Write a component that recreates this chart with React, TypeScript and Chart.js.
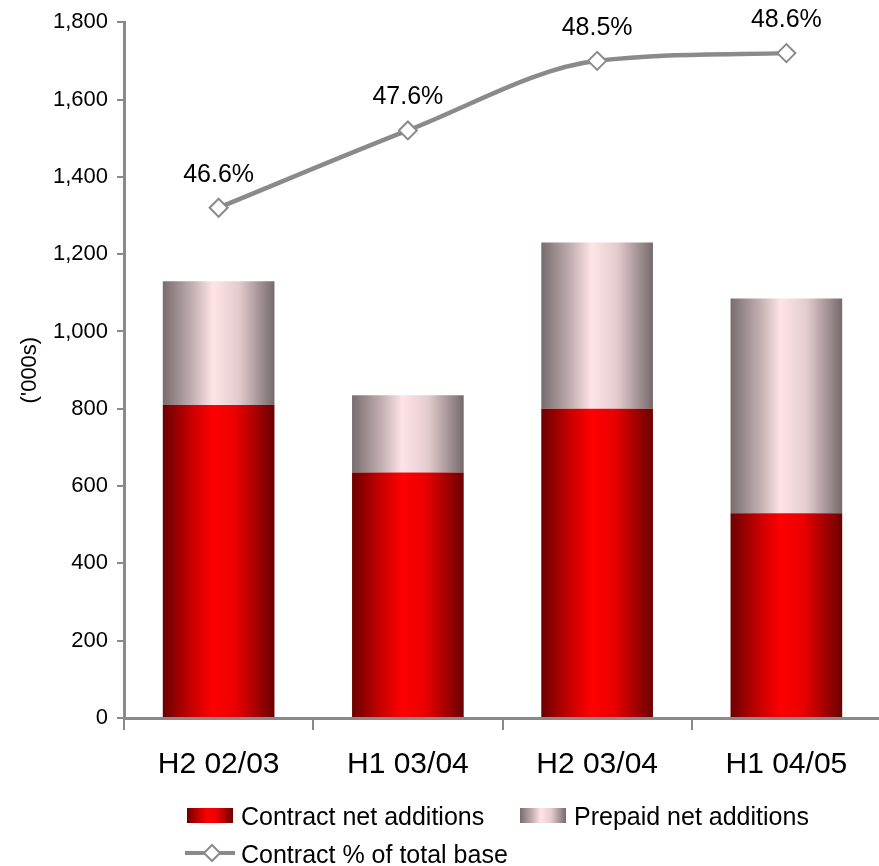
import React, { useEffect, useRef } from 'react';
import { Chart, registerables } from 'chart.js';

Chart.register(...registerables);

// ---- data ----
const categories = ['H2 02/03', 'H1 03/04', 'H2 03/04', 'H1 04/05'];
const contractNetAdditions = [810, 635, 800, 530];
const prepaidNetAdditions = [320, 200, 430, 555];
const contractPctOfTotalBase = [46.6, 47.6, 48.5, 48.6];
const seriesLabels = ['Contract net additions', 'Prepaid net additions', 'Contract % of total base'];
const yAxisTitle = "('000s)";
const yMin = 0;
const yMax = 1800;
const yStep = 200;
const pctAxisMin = 40;
const pctAxisMax = 49;

// ---- styles ----
const FONT = '"Liberation Sans", Arial, Helvetica, sans-serif';
const AXIS_GRAY = '#8a8a8a';
const LINE_GRAY = '#8a8a8a';
const CANVAS_W = 892;
const CANVAS_H = 866;
const redStops: [number, string][] = [
  [0, 'rgb(108,0,0)'],
  [0.27, 'rgb(205,0,0)'],
  [0.45, 'rgb(255,0,0)'],
  [0.65, 'rgb(235,0,0)'],
  [1, 'rgb(108,0,0)'],
];
const pinkStops: [number, string][] = [
  [0, 'rgb(120,108,110)'],
  [0.27, 'rgb(196,176,178)'],
  [0.45, 'rgb(255,228,230)'],
  [0.68, 'rgb(228,204,206)'],
  [1, 'rgb(118,106,108)'],
];

function makeGradient(ctx: CanvasRenderingContext2D, x0: number, x1: number, stops: [number, string][]) {
  const g = ctx.createLinearGradient(x0, 0, x1, 0);
  stops.forEach(([o, c]) => g.addColorStop(o, c));
  return g;
}

const gradientBarsPlugin = {
  id: 'gradientBars',
  beforeDatasetDraw(chart: any, args: any) {
    const ds = chart.data.datasets[args.index];
    if (!ds.gradientStops) return;
    args.meta.data.forEach((el: any) => {
      const { x, width } = el.getProps(['x', 'width'], true);
      const g = makeGradient(chart.ctx, x - width / 2, x + width / 2, ds.gradientStops);
      el.options = { ...el.options, backgroundColor: g };
    });
  },
};

const pctLabelsPlugin = {
  id: 'pctLabels',
  afterDatasetsDraw(chart: any) {
    const ctx = chart.ctx;
    chart.data.datasets.forEach((ds: any, i: number) => {
      if (ds.type !== 'line') return;
      const meta = chart.getDatasetMeta(i);
      ctx.save();
      ctx.font = `25px ${FONT}`;
      ctx.fillStyle = '#000';
      ctx.textAlign = 'center';
      ctx.textBaseline = 'alphabetic';
      meta.data.forEach((pt: any, j: number) => {
        ctx.fillText(`${ds.data[j].toFixed(1)}%`, pt.x, pt.y - 26);
      });
      ctx.restore();
    });
  },
};

const customLegendPlugin = {
  id: 'customLegend',
  afterDraw(chart: any) {
    const ctx = chart.ctx;
    ctx.save();
    ctx.font = `25px ${FONT}`;
    ctx.fillStyle = '#000';
    ctx.textBaseline = 'alphabetic';
    ctx.textAlign = 'left';
    const boxes = [
      { x: 187, stops: redStops, label: seriesLabels[0] },
      { x: 520, stops: pinkStops, label: seriesLabels[1] },
    ];
    boxes.forEach((b) => {
      ctx.fillStyle = makeGradient(ctx, b.x, b.x + 46, b.stops);
      ctx.fillRect(b.x, 808, 46, 15);
      ctx.fillStyle = '#000';
      ctx.fillText(b.label, b.x + 54, 825);
    });
    ctx.strokeStyle = LINE_GRAY;
    ctx.lineWidth = 4;
    ctx.beginPath();
    ctx.moveTo(185, 853);
    ctx.lineTo(235, 853);
    ctx.stroke();
    ctx.beginPath();
    ctx.moveTo(212, 845);
    ctx.lineTo(220, 853);
    ctx.lineTo(212, 861);
    ctx.lineTo(204, 853);
    ctx.closePath();
    ctx.fillStyle = '#fff';
    ctx.fill();
    ctx.lineWidth = 2;
    ctx.stroke();
    ctx.fillStyle = '#000';
    ctx.fillText(seriesLabels[2], 241, 863);
    ctx.restore();
  },
};

export default function App() {
  const canvasRef = useRef<HTMLCanvasElement>(null);

  useEffect(() => {
    document.body.style.margin = '0';
    const canvas = canvasRef.current;
    if (!canvas) return;
    const chart = new Chart(canvas, {
      type: 'bar',
      data: {
        labels: categories,
        datasets: [
          {
            type: 'line',
            label: seriesLabels[2],
            data: contractPctOfTotalBase,
            yAxisID: 'y2',
            order: 0,
            borderColor: LINE_GRAY,
            borderWidth: 4.5,
            cubicInterpolationMode: 'monotone',
            pointStyle: 'rectRot',
            pointRadius: 9,
            pointBackgroundColor: '#fff',
            pointBorderColor: LINE_GRAY,
            pointBorderWidth: 2,
            clip: false,
          } as any,
          {
            type: 'bar',
            label: seriesLabels[0],
            data: contractNetAdditions,
            backgroundColor: 'rgb(220,0,0)',
            gradientStops: redStops,
            order: 1,
            stack: 's',
            categoryPercentage: 1,
            barPercentage: 0.59,
          } as any,
          {
            type: 'bar',
            label: seriesLabels[1],
            data: prepaidNetAdditions,
            backgroundColor: 'rgb(230,210,210)',
            gradientStops: pinkStops,
            order: 2,
            stack: 's',
            categoryPercentage: 1,
            barPercentage: 0.59,
          } as any,
        ],
      },
      options: {
        animation: false,
        responsive: false,
        layout: { padding: { top: 21, right: 0, bottom: 0, left: 0 } },
        plugins: {
          legend: { display: false },
          tooltip: { enabled: false },
        },
        scales: {
          x: {
            stacked: true,
            offset: true,
            border: { display: true, color: AXIS_GRAY, width: 3 },
            grid: {
              offset: true,
              drawOnChartArea: false,
              drawTicks: true,
              tickLength: 12,
              color: AXIS_GRAY,
              lineWidth: 2,
            },
            ticks: {
              color: '#000',
              font: { size: 30, family: FONT },
              padding: 17,
              maxRotation: 0,
            },
            afterFit: (scale: any) => {
              scale.height = 148;
            },
          },
          y: {
            stacked: true,
            min: yMin,
            max: yMax,
            border: { display: true, color: AXIS_GRAY, width: 3 },
            grid: {
              drawOnChartArea: false,
              drawTicks: true,
              tickLength: 7,
              color: AXIS_GRAY,
              lineWidth: 2,
            },
            ticks: {
              stepSize: yStep,
              color: '#000',
              font: { size: 22, family: FONT },
              padding: 9,
              callback: (v: any) => Number(v).toLocaleString('en-US'),
            },
            title: {
              display: true,
              text: yAxisTitle,
              color: '#000',
              font: { size: 22, family: FONT },
              padding: { top: 17, bottom: 0 },
            },
            afterFit: (scale: any) => {
              scale.width = 124;
            },
          },
          y2: {
            display: false,
            min: pctAxisMin,
            max: pctAxisMax,
          },
        },
      } as any,
      plugins: [gradientBarsPlugin, pctLabelsPlugin, customLegendPlugin],
    });
    return () => chart.destroy();
  }, []);

  return (
    <div style={{ position: 'absolute', left: 0, top: 0, width: 879, height: 866, background: '#fff', overflow: 'hidden' }}>
      <canvas ref={canvasRef} width={CANVAS_W} height={CANVAS_H} />
    </div>
  );
}
